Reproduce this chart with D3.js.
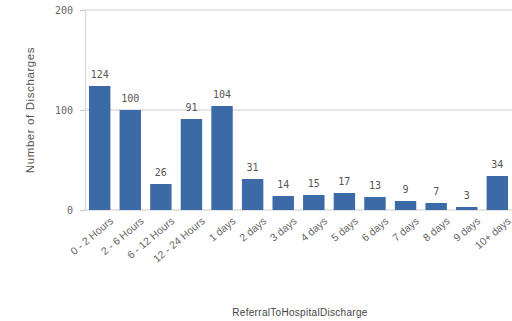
<!DOCTYPE html>
<html>
<head>
<meta charset="utf-8">
<script src="https://cdn.jsdelivr.net/npm/d3@7"></script>
<style>
  body { margin: 0; background: #fff; }
  .tick text { fill: #666; }
</style>
</head>
<body>
<svg id="chart"></svg>
<script>
var categories = ["0 - 2 Hours", "2 - 6 Hours", "6 - 12 Hours", "12 - 24 Hours", "1 days", "2 days",
    "3 days", "4 days", "5 days", "6 days", "7 days", "8 days", "9 days", "10+ days"];
var discharges = [124, 100, 26, 91, 104, 31, 14, 15, 17, 13, 9, 7, 3, 34];
var yTicks = [0, 100, 200];

var width = 512, height = 321;
var margin = {top: 10, right: 0, bottom: 111, left: 85};

var svg = d3.select("#chart")
    .attr("width", width)
    .attr("height", height);

var x = d3.scaleBand()
    .domain(categories)
    .range([margin.left, width - margin.right])
    .paddingInner(0.3)
    .paddingOuter(0.13);

var y = d3.scaleLinear()
    .domain([0, 200])
    .range([height - margin.bottom, margin.top]);

// grid lines
svg.append("g")
    .selectAll("line")
    .data(yTicks)
    .enter().append("line")
    .attr("x1", margin.left)
    .attr("x2", width)
    .attr("y1", function (d) { return y(d); })
    .attr("y2", function (d) { return y(d); })
    .attr("stroke", "#ddd")
    .attr("stroke-width", 1.5);

// y axis
var yAxis = svg.append("g")
    .attr("transform", "translate(" + margin.left + ",0)")
    .call(d3.axisLeft(y).tickValues(yTicks).tickSize(5).tickPadding(7));
yAxis.select(".domain").attr("stroke", "#ddd").attr("stroke-width", 1.5);
yAxis.selectAll(".tick line").attr("stroke", "#ccc");
yAxis.selectAll("text")
    .style("font-family", "'DejaVu Sans Mono', monospace")
    .style("font-size", "10px");

// bars
svg.append("g")
    .selectAll("rect")
    .data(discharges)
    .enter().append("rect")
    .attr("x", function (d, i) { return x(categories[i]); })
    .attr("y", function (d) { return y(d); })
    .attr("width", x.bandwidth())
    .attr("height", function (d) { return y(0) - y(d); })
    .attr("fill", "#3b6aa6");

// value labels
svg.append("g")
    .selectAll("text")
    .data(discharges)
    .enter().append("text")
    .attr("x", function (d, i) { return x(categories[i]) + x.bandwidth() / 2; })
    .attr("y", function (d) { return y(d) - 8; })
    .attr("text-anchor", "middle")
    .style("font-family", "'DejaVu Sans Mono', monospace")
    .style("font-size", "10px")
    .attr("fill", "#555")
    .text(function (d) { return d; });

// x axis
var xAxis = svg.append("g")
    .attr("transform", "translate(0," + y(0) + ")")
    .call(d3.axisBottom(x).tickSize(0).tickPadding(8));
xAxis.select(".domain").remove();
xAxis.selectAll("text")
    .style("font-family", "'Liberation Sans', sans-serif")
    .style("font-size", "10.5px")
    .attr("text-anchor", "end")
    .attr("dx", "0.3em")
    .attr("dy", "1em")
    .attr("transform", "rotate(-40)");

// axis titles
svg.append("text")
    .attr("transform", "translate(34," + (y(100)) + ") rotate(-90)")
    .attr("text-anchor", "middle")
    .style("font-family", "'Liberation Sans', sans-serif")
    .style("font-size", "11.5px")
    .style("letter-spacing", "0.6px")
    .attr("fill", "#555")
    .text("Number of Discharges");

svg.append("text")
    .attr("x", 300)
    .attr("y", 316)
    .attr("text-anchor", "middle")
    .style("font-family", "'Liberation Sans', sans-serif")
    .style("font-size", "10px")
    .style("letter-spacing", "0.3px")
    .attr("fill", "#444")
    .text("ReferralToHospitalDischarge");
</script>
</body>
</html>
